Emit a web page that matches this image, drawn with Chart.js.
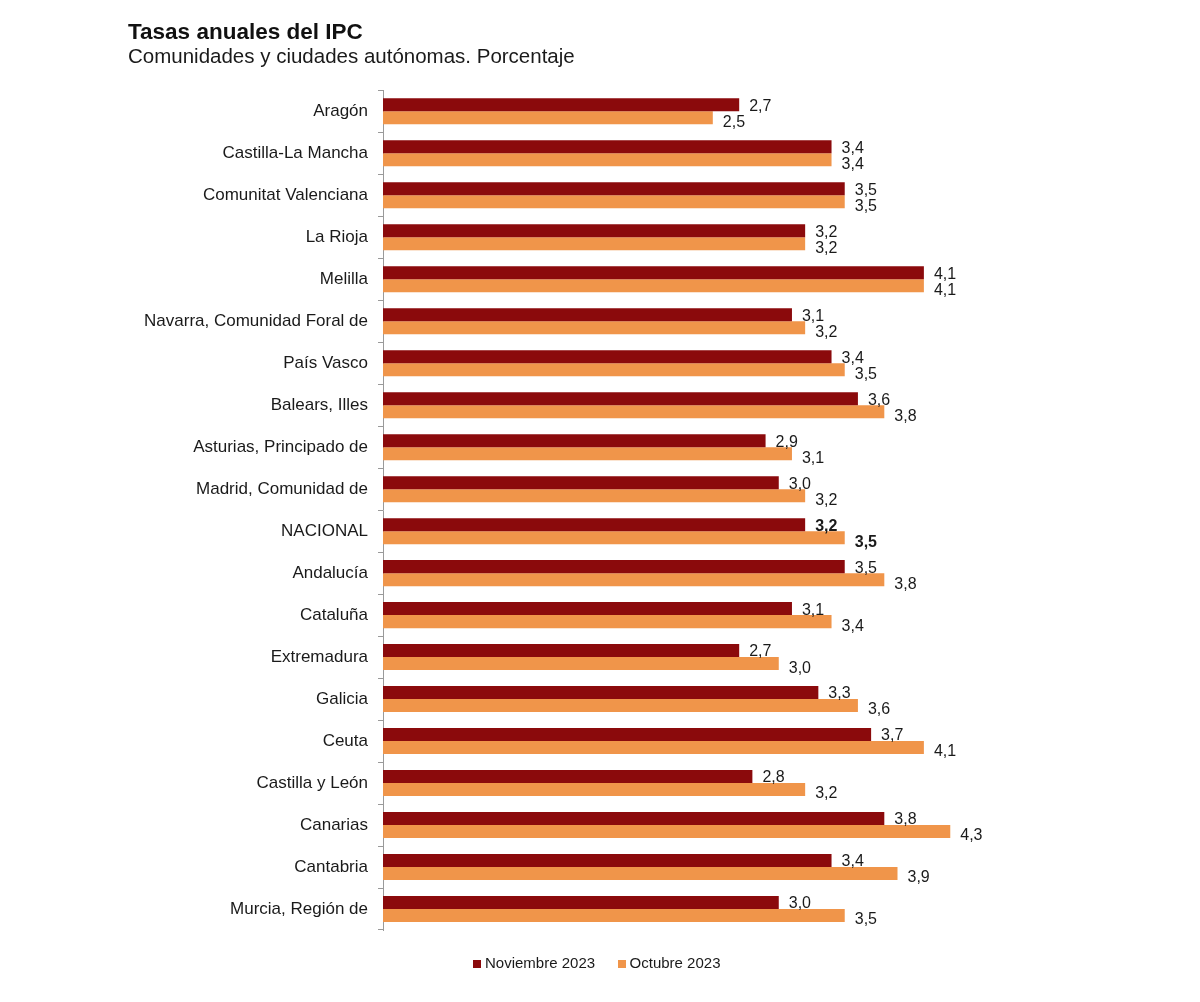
<!DOCTYPE html>
<html>
<head>
<meta charset="utf-8">
<script src="https://cdn.jsdelivr.net/npm/chart.js@4/dist/chart.umd.min.js"></script>
<style>
  html, body { margin: 0; padding: 0; background: #fff; }
  #wrap { width: 1200px; height: 1002px; position: relative; }
</style>
</head>
<body>
<div id="wrap"><canvas id="c" width="1200" height="1002"></canvas></div>
<script>
const categories = ['Aragón','Castilla-La Mancha','Comunitat Valenciana','La Rioja','Melilla','Navarra, Comunidad Foral de','País Vasco','Balears, Illes','Asturias, Principado de','Madrid, Comunidad de','NACIONAL','Andalucía','Cataluña','Extremadura','Galicia','Ceuta','Castilla y León','Canarias','Cantabria','Murcia, Región de'];
const noviembre2023 = [2.7,3.4,3.5,3.2,4.1,3.1,3.4,3.6,2.9,3.0,3.2,3.5,3.1,2.7,3.3,3.7,2.8,3.8,3.4,3.0];
const octubre2023 = [2.5,3.4,3.5,3.2,4.1,3.2,3.5,3.8,3.1,3.2,3.5,3.8,3.4,3.0,3.6,4.1,3.2,4.3,3.9,3.5];
const seriesNames = ['Noviembre 2023','Octubre 2023'];
const seriesColors = ['#8B0A0C', '#F0954A'];
const titleText = 'Tasas anuales del IPC';
const subtitleText = 'Comunidades y ciudades autónomas. Porcentaje';

const FONT = "'Liberation Sans', Arial, sans-serif";

function makeMarker(color) {
  const c = document.createElement('canvas');
  c.width = 8; c.height = 8;
  const g = c.getContext('2d');
  g.fillStyle = color;
  g.fillRect(0, 0, 8, 8);
  return c;
}
const markers = seriesColors.map(makeMarker);

const valueLabels = {
  id: 'valueLabels',
  afterDatasetsDraw(chart) {
    const ctx = chart.ctx;
    ctx.save();
    ctx.textAlign = 'left';
    ctx.textBaseline = 'middle';
    ctx.fillStyle = '#1a1a1a';
    chart.data.datasets.forEach((ds, di) => {
      const meta = chart.getDatasetMeta(di);
      meta.data.forEach((el, i) => {
        const bold = chart.data.labels[i] === 'NACIONAL';
        ctx.font = (bold ? 'bold ' : '') + '16px ' + FONT;
        const txt = ds.data[i].toFixed(1).replace('.', ',');
        const dy = di === 0 ? 1.5 : 4.5;
        ctx.fillText(txt, el.x + 10, el.y + dy);
      });
    });
    ctx.restore();
  }
};

new Chart(document.getElementById('c'), {
  type: 'bar',
  data: {
    labels: categories,
    datasets: [
      { label: seriesNames[0], data: noviembre2023, backgroundColor: seriesColors[0], borderWidth: 0 },
      { label: seriesNames[1], data: octubre2023, backgroundColor: seriesColors[1], borderWidth: 0 }
    ]
  },
  options: {
    indexAxis: 'y',
    responsive: false,
    animation: false,
    devicePixelRatio: 1,
    categoryPercentage: 0.62,
    barPercentage: 1.0,
    layout: { padding: { left: 128, right: 131, top: 0, bottom: 21 } },
    scales: {
      x: {
        display: false,
        min: 0,
        max: 5.2
      },
      y: {
        offset: true,
        afterFit(scale) { scale.width = 255; },
        border: { display: true, color: '#9a9a9a', width: 1 },
        grid: { display: true, drawOnChartArea: false, drawTicks: true, tickLength: 5, color: '#9a9a9a', offset: true },
        ticks: { color: '#1a1a1a', font: { family: FONT, size: 17 }, padding: 10 }
      }
    },
    plugins: {
      title: {
        display: true, text: titleText, align: 'start',
        color: '#111', font: { family: FONT, size: 22.5, weight: 'bold', lineHeight: 1.1 },
        padding: { top: 20, bottom: 0 }
      },
      subtitle: {
        display: true, text: subtitleText, align: 'start',
        color: '#1a1a1a', font: { family: FONT, size: 20.5, lineHeight: 1.1 },
        padding: { top: 1, bottom: 22 }
      },
      legend: {
        display: true, position: 'bottom',
        labels: {
          color: '#1a1a1a', font: { family: FONT, size: 15 },
          usePointStyle: true, pointStyleWidth: 1, boxWidth: 8, boxHeight: 8, padding: 26,
          generateLabels(chart) {
            const items = Chart.defaults.plugins.legend.labels.generateLabels(chart);
            items.forEach((it, i) => { it.pointStyle = markers[i]; });
            return items;
          }
        }
      },
      tooltip: { enabled: false }
    }
  },
  plugins: [valueLabels]
});
</script>
</body>
</html>
